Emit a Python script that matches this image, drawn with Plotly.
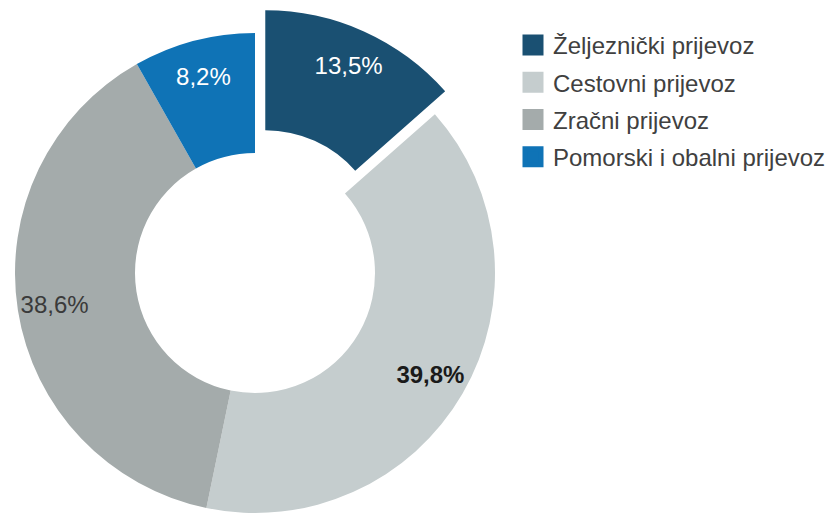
import numpy as np
import plotly.graph_objects as go

labels = ["Željeznički prijevoz", "Cestovni prijevoz", "Zračni prijevoz", "Pomorski i obalni prijevoz"]
values = [13.5, 39.8, 38.6, 8.2]
value_text = ["13,5%", "<b>39,8%</b>", "38,6%", "8,2%"]
colors = ["#1a5072", "#c5cdce", "#a4abab", "#0f73b6"]
text_colors = ["#ffffff", "#1a1a1a", "#3a3a3a", "#ffffff"]
pulled = 0  # index of exploded slice

W, H = 839, 516
PAGE = 8.0  # page body margin offset
cx, cy, R = 255.0 - PAGE, 273.0 - PAGE, 240.0
pull_px = 25.0
HOLE = 0.5
TEXT_HOLE = 0.69
FONT = "Liberation Sans, Arial, sans-serif"

def domain(cxp, cyp):
    return dict(x=[(cxp - R) / W, (cxp + R) / W],
                y=[(H - cyp - R) / H, (H - cyp + R) / H])

total = sum(values)
start = sum(values[:pulled]) / total * 2 * np.pi
mid = start + values[pulled] / total * np.pi
pcx = cx + pull_px * np.sin(mid)
pcy = cy - pull_px * np.cos(mid)

transparent = "rgba(0,0,0,0)"
colA = [transparent if i == pulled else c for i, c in enumerate(colors)]
colB = [c if i == pulled else transparent for i, c in enumerate(colors)]
txtA = ["" if i == pulled else t for i, t in enumerate(value_text)]
txtB = [t if i == pulled else "" for i, t in enumerate(value_text)]

fig = go.Figure()

def ring(cols, dom):
    return go.Pie(
        labels=labels, values=values, sort=False, direction="clockwise", rotation=0,
        hole=HOLE, marker=dict(colors=cols, line=dict(width=0)),
        textinfo="none", domain=dom, showlegend=False, hoverinfo="label+value",
    )

def text_ring(txts, dom):
    return go.Pie(
        labels=labels, values=values, sort=False, direction="clockwise", rotation=0,
        hole=TEXT_HOLE, marker=dict(colors=[transparent] * len(values), line=dict(width=0)),
        text=txts, textinfo="text", textposition="inside",
        insidetextorientation="horizontal",
        insidetextfont=dict(family=FONT, size=24, color=text_colors),
        domain=dom, showlegend=False, hoverinfo="skip",
    )

domA = domain(cx, cy)
domB = domain(pcx, pcy)
fig.add_trace(ring(colA, domA))
fig.add_trace(ring(colB, domB))
fig.add_trace(text_ring(txtA, domA))
fig.add_trace(text_ring(txtB, domB))

for i, (lab, c) in enumerate(zip(labels, colors)):
    fig.add_trace(go.Scatter(
        x=[None], y=[None], mode="markers", name=lab, legendgroup=f"g{i}",
        marker=dict(symbol="square", size=16, color=c, line=dict(width=5, color=c)),
        showlegend=True,
    ))

fig.update_layout(
    width=W, height=H,
    margin=dict(l=0, r=0, t=0, b=0),
    paper_bgcolor="white", plot_bgcolor="white",
    font=dict(family=FONT, size=24, color="#404040"),
    xaxis=dict(visible=False), yaxis=dict(visible=False),
    legend=dict(x=505 / W, y=1 - 15 / H, xanchor="left", yanchor="top",
                traceorder="grouped", tracegroupgap=3,
                font=dict(family=FONT, size=24, color="#404040"),
                bgcolor="rgba(0,0,0,0)"),
)

fig.write_html("out.html")
